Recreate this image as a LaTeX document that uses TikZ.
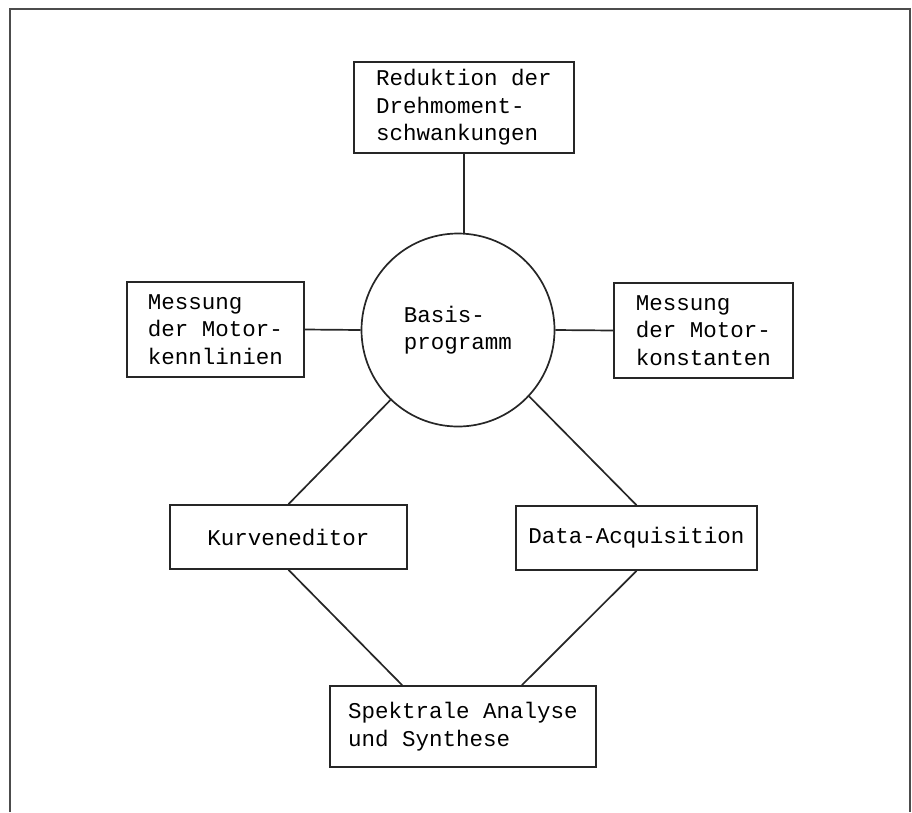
\documentclass[tikz,border=0pt]{standalone}
\usepackage{fontspec}
\setmainfont{Liberation Mono}
\begin{document}
\begin{tikzpicture}[x=1pt,y=-1pt,
  ln/.style={draw=black!85,line width=1.7pt},
  boxnode/.style={ln,rectangle,align=left,inner sep=0pt,font=\fontsize{22.5}{27.6}\selectfont},
  circnode/.style={ln,circle,minimum size=193pt,inner sep=0pt,align=left,font=\fontsize{22.5}{27.6}\selectfont}]
\useasboundingbox (0,0) rectangle (912,812);
\draw[draw=black!70,line width=1.4pt] (10,812) -- (10,9) -- (910,9) -- (910,812);
\node[circnode] (circ) at (458,330) {Basis-\\programm};
\node[boxnode,minimum width=220pt,minimum height=91pt] (top) at (464,107.5) {Reduktion der\\Drehmoment-\\schwankungen};
\node[boxnode,minimum width=177pt,minimum height=95pt] (left) at (215.5,329.5) {Messung\\der Motor-\\kennlinien};
\node[boxnode,minimum width=179pt,minimum height=95pt] (right) at (703.5,330.5) {Messung\\der Motor-\\konstanten};
\node[boxnode,minimum width=237pt,minimum height=64pt] (kurv) at (288.5,537) {Kurveneditor};
\node[boxnode,minimum width=241pt,minimum height=64pt] (data) at (636.5,538) {Data-Acquisition};
\node[boxnode,minimum width=266pt,minimum height=81pt] (bot) at (463,726.5) {Spektrale Analyse\\und Synthese};
\draw[ln] (top.south) -- (top.south |- circ.north);
\draw[ln] (left.east) -- (circ.west);
\draw[ln] (circ.east) -- (right.west);
\draw[ln] (circ.226.7) -- (kurv.north);
\draw[ln] (circ.-43.3) -- (data.north);
\draw[ln] (kurv.south) -- ([xshift=73pt]bot.north west);
\draw[ln] (data.south) -- ([xshift=-75pt]bot.north east);
\end{tikzpicture}
\end{document}
